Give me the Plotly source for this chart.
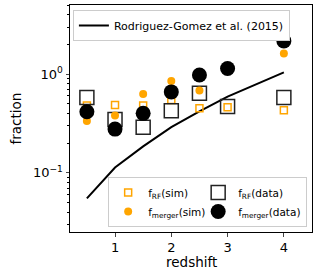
import plotly.graph_objects as go

# Data
z_rg = [0.5, 1.0, 1.5, 2.0, 2.5, 3.0, 4.0]
f_rg = [0.055, 0.113, 0.185, 0.29, 0.42, 0.59, 1.04]

z = [0.5, 1.0, 1.5, 2.0, 2.5, 3.0, 4.0]
frf_sim = [0.48, 0.485, 0.48, 0.545, 0.45, 0.46, 0.43]
fmerger_sim = [0.334, 0.38, 0.63, 0.85, 0.68, 1.1, 1.62]
frf_data = [0.58, 0.347, 0.29, 0.425, 0.64, 0.47, 0.58]
fmerger_data = [0.415, 0.277, 0.40, 0.66, 0.98, 1.14, 2.17]

font = "DejaVu Sans"
fig = go.Figure()

fig.add_trace(go.Scatter(x=z_rg, y=f_rg, mode="lines", line=dict(color="black", width=2),
                         name="Rodriguez-Gomez et al. (2015)", legend="legend", showlegend=True))

# draw order: sim squares, data squares, sim circles, data circles
fig.add_trace(go.Scatter(x=z, y=frf_sim, mode="markers", name="f<sub>RF</sub>(sim)",
                         marker=dict(symbol="square-open", color="orange", size=7, line=dict(width=1.5, color="orange")),
                         legend="legend2", legendgroup="sim", legendrank=1, legendwidth=45, showlegend=True))
fig.add_trace(go.Scatter(x=z, y=frf_data, mode="markers", name="f<sub>RF</sub>(data)",
                         marker=dict(symbol="square", color="rgba(255,255,255,0)", size=14, line=dict(width=1.5, color="#222")),
                         legend="legend2", legendgroup="data", legendrank=3, showlegend=True))
fig.add_trace(go.Scatter(x=z, y=fmerger_sim, mode="markers", name="f<sub>merger</sub>(sim)",
                         marker=dict(symbol="circle", color="orange", size=8),
                         legend="legend2", legendgroup="sim", legendrank=2, legendwidth=45, showlegend=True))
fig.add_trace(go.Scatter(x=z, y=fmerger_data, mode="markers", name="f<sub>merger</sub>(data)",
                         marker=dict(symbol="circle", color="black", size=15),
                         legend="legend2", legendgroup="data", legendrank=4, showlegend=True))

minor_vals = [0.03, 0.04, 0.05, 0.06, 0.07, 0.08, 0.09, 0.2, 0.3, 0.4, 0.5, 0.6, 0.7, 0.8, 0.9, 2, 3, 4, 5]

fig.update_layout(
    width=319, height=273,
    margin=dict(l=70, r=7, t=5, b=41),
    paper_bgcolor="white", plot_bgcolor="white",
    font=dict(family=font, size=12, color="black"),
    showlegend=True,
    xaxis=dict(range=[0.2, 4.5], tickvals=[1, 2, 3, 4], ticks="outside", ticklen=3.5,
               showline=True, linecolor="black", linewidth=1, mirror=True, showgrid=False, zeroline=False,
               tickfont=dict(size=13), automargin=False),
    yaxis=dict(type="log", range=[-1.6, 0.7], tickvals=[0.1, 1],
               ticktext=["10<sup>−1</sup>", "10<sup>0</sup>"], ticks="outside", ticklen=3.5,
               minor=dict(tickvals=minor_vals, ticks="outside", ticklen=2, tickcolor="black"),
               showline=True, linecolor="black", linewidth=1, mirror=True, showgrid=False, zeroline=False,
               tickfont=dict(size=13), automargin=False),
    annotations=[
        dict(text="redshift", xref="paper", yref="paper", x=0.5, y=-0.132, xanchor="center", yanchor="middle",
             showarrow=False, font=dict(size=13.5)),
        dict(text="fraction", xref="paper", yref="paper", x=-0.227, y=0.5, xanchor="center", yanchor="middle",
             textangle=-90, showarrow=False, font=dict(size=13.5)),
    ],
    legend=dict(x=0.012, y=0.978, xanchor="left", yanchor="top", bgcolor="white",
                bordercolor="#ccc", borderwidth=1, font=dict(size=11), itemwidth=30),
    legend2=dict(x=0.98, y=0.022, xanchor="right", yanchor="bottom", bgcolor="white",
                 bordercolor="#ccc", borderwidth=1, font=dict(size=10.5), orientation="h",
                 itemwidth=30, tracegroupgap=0, traceorder="grouped"),
)

fig.write_html("out.html", config={"displayModeBar": False},
               post_script="document.body.style.margin='0';document.body.style.padding='0';")
